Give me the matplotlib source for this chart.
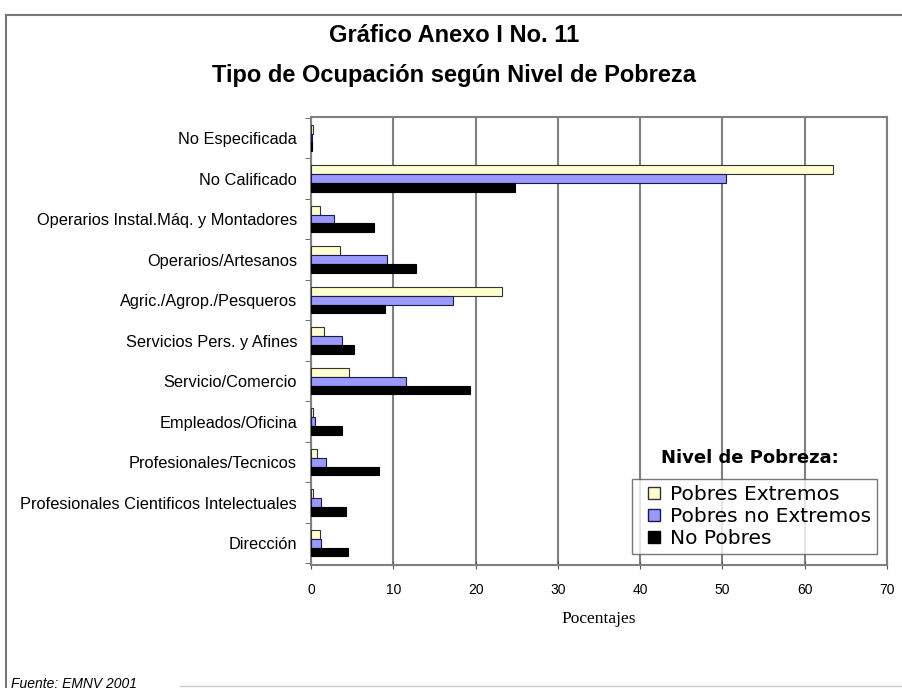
import numpy as np
import matplotlib.pyplot as plt
from matplotlib.lines import Line2D

categories = ['No Especificada', 'No Calificado', 'Operarios Instal.Máq. y Montadores',
              'Operarios/Artesanos', 'Agric./Agrop./Pesqueros', 'Servicios Pers. y Afines',
              'Servicio/Comercio', 'Empleados/Oficina', 'Profesionales/Tecnicos',
              'Profesionales Cientificos Intelectuales', 'Dirección']
pobres_extremos = [0.3, 63.4, 1.1, 3.5, 23.2, 1.6, 4.6, 0.3, 0.7, 0.3, 1.1]
pobres_no_extremos = [0.1, 50.4, 2.8, 9.2, 17.3, 3.8, 11.5, 0.5, 1.8, 1.2, 1.2]
no_pobres = [0.1, 24.8, 7.6, 12.8, 9.0, 5.2, 19.3, 3.8, 8.3, 4.3, 4.5]
series_names = ['Pobres Extremos', 'Pobres no Extremos', 'No Pobres']
xticks = [0, 10, 20, 30, 40, 50, 60, 70]

fig = plt.figure(figsize=(9.02, 6.9), dpi=100)
ax = fig.add_axes([0.3448, 0.1812, 0.6386, 0.6493])

y = np.arange(len(categories))
h = 0.22
ax.barh(y - h, pobres_extremos, height=h, color='#ffffd0', edgecolor='#333333', linewidth=0.8, zorder=3)
ax.barh(y, pobres_no_extremos, height=h, color='#9999ff', edgecolor='#1a1a4d', linewidth=0.8, zorder=3)
ax.barh(y + h, no_pobres, height=h, color='black', edgecolor='black', linewidth=0.8, zorder=3)

ax.set_xlim(0, 70)
ax.set_ylim(10.54, -0.52)
ax.set_xticks(xticks)
ax.set_xticklabels([str(t) for t in xticks], fontsize=10, family='Liberation Sans')
ax.tick_params(axis='x', direction='inout', length=6, color='#555555', pad=10)
ax.set_yticks(y)
ax.set_yticklabels(categories, fontsize=11.8, family='Liberation Sans')
ax.tick_params(axis='y', which='major', length=0, pad=10)
ax.set_yticks(np.arange(len(categories) + 1) - 0.5, minor=True)
ax.tick_params(axis='y', which='minor', length=4, color='#555555', direction='out')
ax.grid(axis='x', color='#808080', linewidth=1.5, zorder=0)
for s in ax.spines.values():
    s.set_color('#808080')
    s.set_linewidth(1.5)

ax.set_xlabel('Pocentajes', fontsize=12.5, family='Liberation Serif', labelpad=10)

fig.text(0.503, 0.949, 'Gráfico Anexo I No. 11', ha='center', va='center', fontsize=17,
         fontweight='bold', family='Liberation Sans')
fig.text(0.503, 0.891, 'Tipo de Ocupación según Nivel de Pobreza', ha='center', va='center', fontsize=17,
         fontweight='bold', family='Liberation Sans')

fig.text(0.831, 0.336, 'Nivel de Pobreza:', ha='center', va='center', fontsize=13, fontweight='bold')
handles = [Line2D([], [], linestyle='none', marker='s', markersize=9, markerfacecolor='#ffffd0', markeredgecolor='#333333'),
           Line2D([], [], linestyle='none', marker='s', markersize=9, markerfacecolor='#9999ff', markeredgecolor='#1a1a4d'),
           Line2D([], [], linestyle='none', marker='s', markersize=9, markerfacecolor='black', markeredgecolor='black')]
leg = ax.legend(handles, series_names, loc='lower right', bbox_to_anchor=(0.983, 0.025),
                fontsize=14.5, frameon=True, fancybox=False, handlelength=1.6,
                handletextpad=0.0, borderpad=0.3, labelspacing=0.15, borderaxespad=0)
leg.get_frame().set_edgecolor('#555555')
leg.get_frame().set_linewidth(1.0)

fig.text(0.012, 0.003, 'Fuente: EMNV 2001', fontsize=10, style='italic', family='Liberation Sans')

# outer frame
fig.add_artist(Line2D([0.007, 1.0], [0.978, 0.978], color='#777777', linewidth=1.5))
fig.add_artist(Line2D([0.007, 0.007], [0.978, 0.005], color='#777777', linewidth=1.5))
fig.add_artist(Line2D([0.2, 1.0], [0.006, 0.006], color='#cccccc', linewidth=1.0))

fig.savefig('out.png', dpi=100)
